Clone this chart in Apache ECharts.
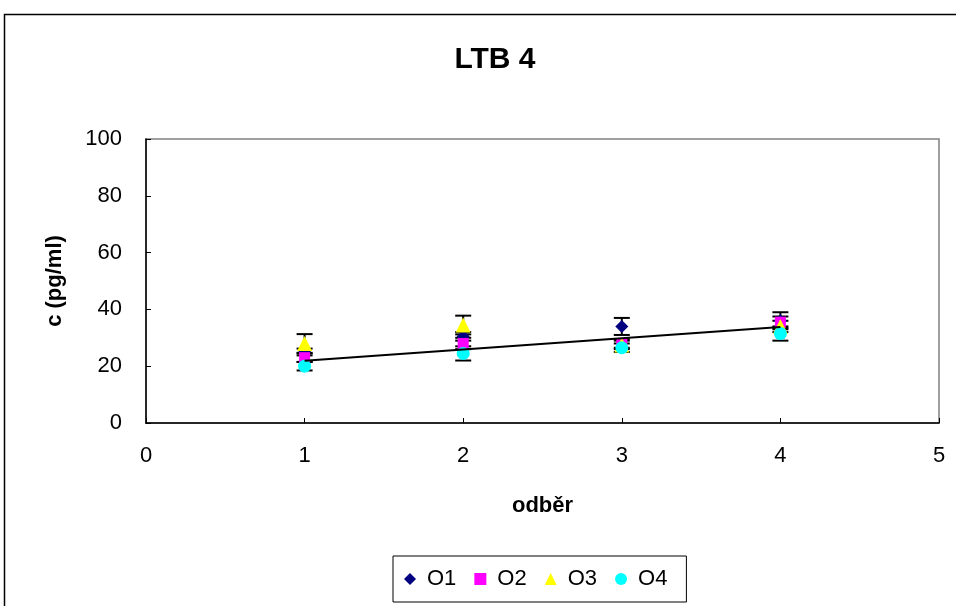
<!DOCTYPE html>
<html>
<head>
<meta charset="utf-8">
<script src="https://cdn.jsdelivr.net/npm/echarts@6/dist/echarts.min.js"></script>
<style>
  html, body { margin: 0; padding: 0; background: #fff; }
  #chart { width: 956px; height: 606px; }
</style>
</head>
<body>
<div id="chart"></div>
<script>
const odber = [1, 2, 3, 4];

const o1 = [25, 30.5, 34, 36];
const o2 = [23, 28, 28, 35.5];
const o3 = [28, 34.5, 27.5, 34];
const o4 = [20, 24.5, 26.5, 31.5];

const o1Err = [1.2, 1.5, 3, 3];
const o2Err = [1.5, 2, 1.5, 2];
const o3Err = [3.3, 3.3, 1.5, 2];
const o4Err = [1.5, 2.5, 1.5, 2.5];

const trendX = [1, 4];
const trendY = [21.9, 33.8];

const names = ['O1', 'O2', 'O3', 'O4'];
const values = [o1, o2, o3, o4];
const errors = [o1Err, o2Err, o3Err, o4Err];
const colors = ['#000080', '#ff00ff', '#ffff00', '#00ffff'];
const symbols = ['diamond', 'rect', 'triangle', 'circle'];
const sizes = [13, 11, 15, 13];

const font = 'Arial, "Liberation Sans", sans-serif';

function errorBar(params, api) {
  const x = api.value(0);
  const lo = api.coord([x, api.value(1)]);
  const hi = api.coord([x, api.value(2)]);
  const w = 8;
  const st = { stroke: '#000', lineWidth: 2 };
  return {
    type: 'group',
    children: [
      { type: 'line', shape: { x1: lo[0], y1: lo[1], x2: hi[0], y2: hi[1] }, style: st },
      { type: 'line', shape: { x1: lo[0] - w, y1: lo[1], x2: lo[0] + w, y2: lo[1] }, style: st },
      { type: 'line', shape: { x1: hi[0] - w, y1: hi[1], x2: hi[0] + w, y2: hi[1] }, style: st },
    ],
  };
}

let series = [];
names.forEach((n, k) => {
  series.push({
    name: n + '_err',
    type: 'custom',
    renderItem: errorBar,
    data: odber.map((x, i) => [x, values[k][i] - errors[k][i], values[k][i] + errors[k][i]]),
    z: 2,
    silent: true,
  });
});
names.forEach((n, k) => {
  series.push({
    name: n,
    type: 'scatter',
    symbol: symbols[k],
    symbolSize: sizes[k],
    itemStyle: { color: colors[k], opacity: 1 },
    data: odber.map((x, i) => [x, values[k][i]]),
    z: 3,
  });
});
series.push({
  name: 'trend',
  type: 'line',
  data: trendX.map((x, i) => [x, trendY[i]]),
  showSymbol: false,
  lineStyle: { color: '#000', width: 2 },
  z: 4,
  silent: true,
});

const chart = echarts.init(document.getElementById('chart'));
chart.setOption({
  animation: false,
  backgroundColor: '#fff',
  title: {
    text: 'LTB 4',
    left: 490,
    textAlign: 'center',
    top: 40,
    textStyle: { fontFamily: font, fontSize: 30, fontWeight: 'bold', color: '#000' },
  },
  graphic: [{
    type: 'rect',
    shape: { x: 4.5, y: 14.5, width: 1000, height: 1000 },
    style: { fill: 'none', stroke: '#000', lineWidth: 1.5 },
  }],
  grid: {
    left: 146, top: 139, right: 17, bottom: 183,
    show: true, borderColor: '#808080', borderWidth: 1.5, backgroundColor: 'transparent',
  },
  legend: {
    data: names,
    left: 393,
    top: 556,
    orient: 'horizontal',
    itemWidth: 12,
    itemHeight: 12,
    itemGap: 18,
    padding: [12, 19, 12, 11],
    borderColor: '#000',
    borderWidth: 1,
    textStyle: { fontFamily: font, fontSize: 22, color: '#000', padding: [0, 0, 0, 6] },
  },
  xAxis: {
    type: 'value',
    min: 0, max: 5, interval: 1,
    name: 'odběr',
    nameLocation: 'middle',
    nameGap: 72,
    nameTextStyle: { fontFamily: font, fontSize: 22, fontWeight: 'bold', color: '#000' },
    axisLine: { show: true, lineStyle: { color: '#000', width: 1.5 } },
    axisTick: { show: true, inside: true, length: 5, lineStyle: { color: '#000' } },
    axisLabel: { margin: 22, fontFamily: font, fontSize: 22, color: '#000' },
    splitLine: { show: false },
  },
  yAxis: {
    type: 'value',
    min: 0, max: 100, interval: 20,
    name: 'c (pg/ml)',
    nameLocation: 'middle',
    nameGap: 80,
    nameTextStyle: { fontFamily: font, fontSize: 22, fontWeight: 'bold', color: '#000' },
    axisLine: { show: true, lineStyle: { color: '#000', width: 1.5 } },
    axisTick: { show: true, inside: true, length: 5, lineStyle: { color: '#000' } },
    axisLabel: { margin: 24, fontFamily: font, fontSize: 22, color: '#000' },
    splitLine: { show: false },
  },
  series: series,
});
</script>
</body>
</html>
